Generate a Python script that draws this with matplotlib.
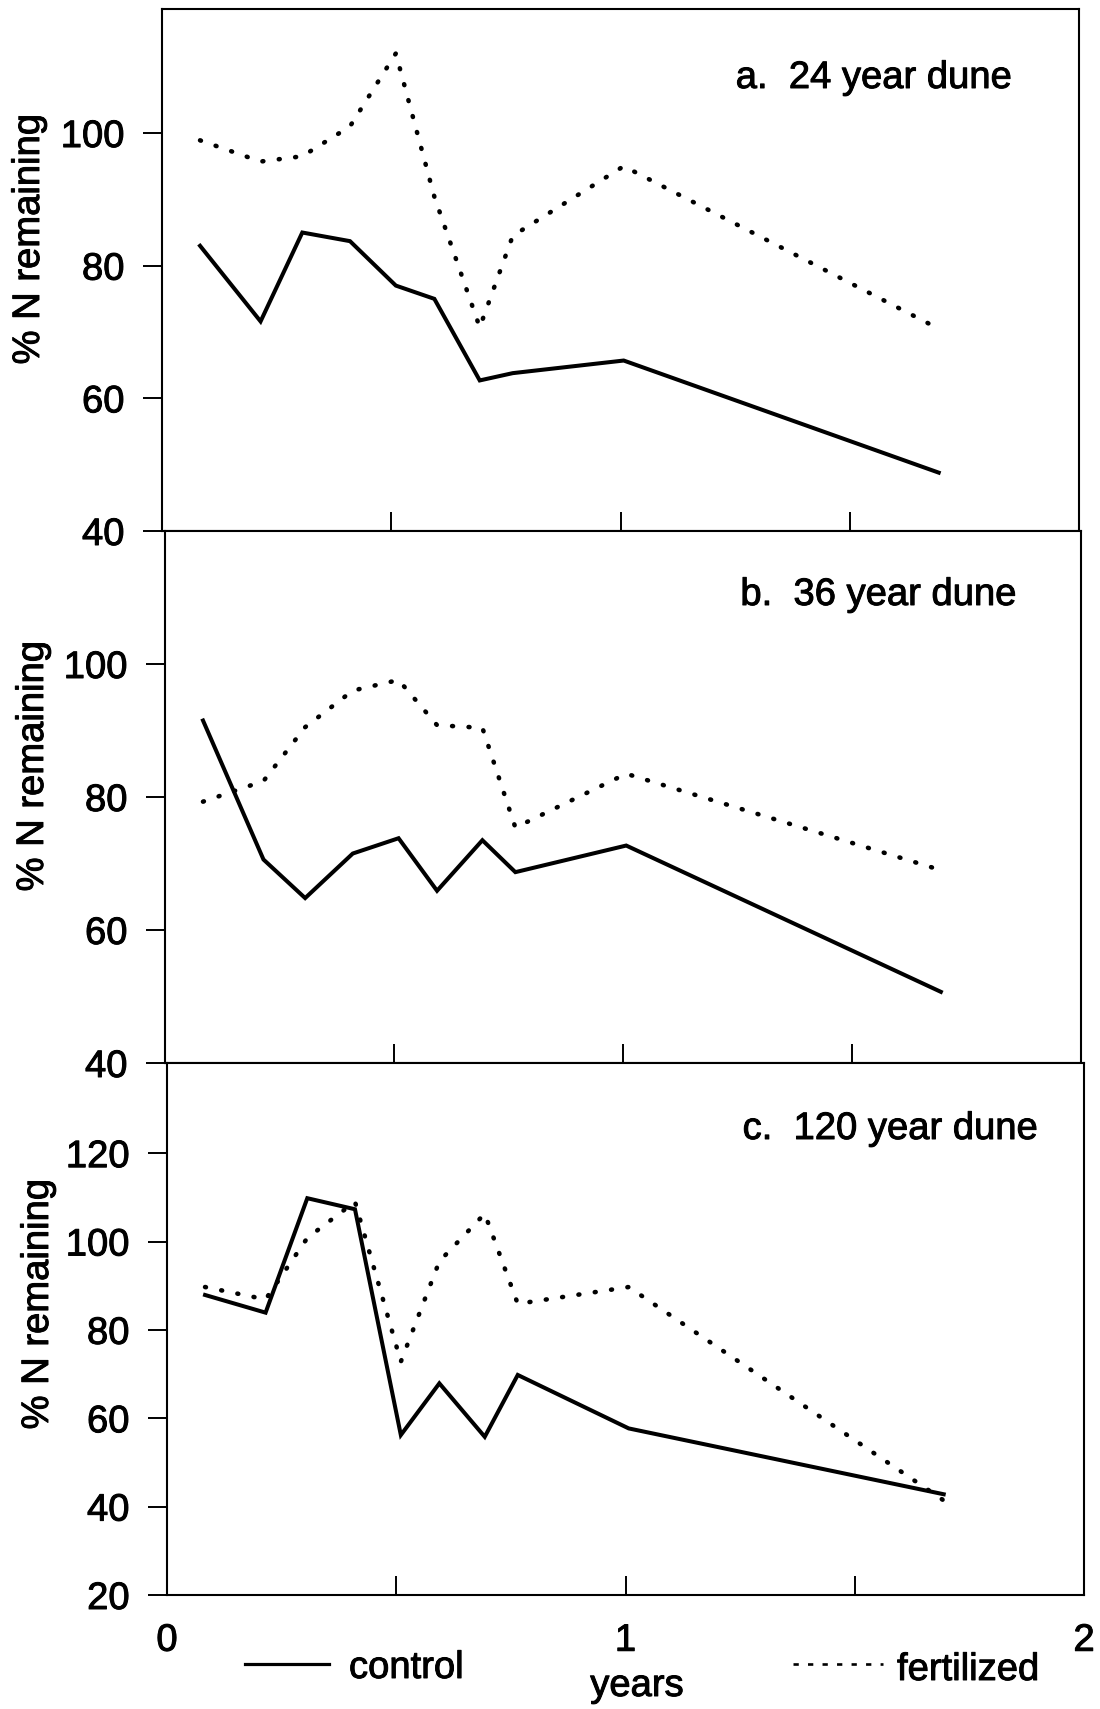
import numpy as np
import matplotlib.pyplot as plt
import matplotlib.patheffects as pe
from matplotlib.lines import Line2D

plt.rcParams['font.family'] = ['Liberation Sans', 'DejaVu Sans']

# sampling times (years) shared by all three dunes
years = [0.083, 0.215, 0.306, 0.41, 0.51, 0.594, 0.693, 0.765, 1.007, 1.694]

control_a = [83.0, 71.6, 85.0, 83.7, 77.0, 75.0, 62.7, 63.8, 65.7, 48.8]
fert_a = [98.9, 95.7, 96.5, 101.0, 112.0, 90.4, 70.7, 84.5, 95.0, 70.5]

control_b = [91.5, 70.6, 64.8, 71.5, 73.8, 65.9, 73.5, 68.7, 72.7, 50.7]
fert_b = [79.3, 82.4, 90.5, 96.0, 97.6, 90.8, 90.4, 75.4, 83.5, 69.0]

control_c = [87.9, 83.9, 109.8, 107.3, 56.2, 67.9, 55.8, 69.8, 57.7, 42.8]
fert_c = [89.7, 86.9, 100.8, 109.0, 72.8, 95.5, 106.3, 85.9, 89.7, 41.4]

titles = ['a.  24 year dune', 'b.  36 year dune', 'c.  120 year dune']
yticks = [[40, 60, 80, 100], [40, 60, 80, 100], [20, 40, 60, 80, 100, 120]]
ylims = [(40, 118.7), (40, 120), (20, 140.4)]

W, H = 1100, 1709
fig = plt.figure(figsize=(W / 100, H / 100), dpi=100)

# slightly heavier lettering
heavy = [pe.withStroke(linewidth=0.7, foreground='k')]

# panel boxes in pixels: left, right, top, bottom
boxes = [(162, 1079, 9, 531), (165, 1081, 531, 1063), (167, 1084, 1063, 1595)]
title_pos = [(1012, 78), (1017, 595), (1038, 1129)]
ylab_pos = [(29, 239), (33, 766), (38, 1304)]

series = [(control_a, fert_a), (control_b, fert_b), (control_c, fert_c)]
fs = 27.5

for i, (l, r, t, b) in enumerate(boxes):
    ax = fig.add_axes([l / W, 1 - b / H, (r - l) / W, (b - t) / H])
    ctrl, fert = series[i]
    ax.plot(years, ctrl, color='k', lw=2.9, solid_joinstyle='miter')
    ax.plot(years, fert, color='k', lw=3.3, dashes=(0.2, 3.4),
            dash_capstyle='round')
    ax.set_xlim(0, 2)
    ax.set_ylim(*ylims[i])
    ax.set_yticks(yticks[i])
    ax.set_yticklabels([str(v) for v in yticks[i]], fontsize=fs)
    ax.set_xticks([0, 0.5, 1, 1.5, 2])
    if i == 2:
        ax.set_xticklabels(['0', '', '1', '', '2'], fontsize=fs)
    else:
        ax.set_xticklabels([])
    for lab in ax.get_xticklabels() + ax.get_yticklabels():
        lab.set_path_effects(heavy)
    ax.tick_params(axis='y', direction='out', length=14, width=1.4, pad=13)
    ax.tick_params(axis='x', direction='in', length=14, width=1.4, pad=20)
    for s in ax.spines.values():
        s.set_linewidth(1.5)
    tx, ty = title_pos[i]
    ax.text((tx - l) / (r - l), (b - ty) / (b - t), titles[i], fontsize=fs,
            ha='right', va='center', transform=ax.transAxes,
            path_effects=heavy)
    lx, ly = ylab_pos[i]
    fig.text(lx / W, 1 - ly / H, '% N remaining', fontsize=fs, rotation=90,
             ha='center', va='center', path_effects=heavy)

# key below the bottom panel
fig.add_artist(Line2D([245 / W, 329 / W], [1 - 1664 / H, 1 - 1664 / H],
                      color='k', lw=2.3))
fig.text(349 / W, 1 - 1668 / H, 'control', fontsize=fs, ha='left',
         va='center', path_effects=heavy)
fig.add_artist(Line2D([793 / W, 883 / W], [1 - 1664 / H, 1 - 1664 / H],
                      color='k', lw=1.9, dashes=(2, 3.5)))
fig.text(897 / W, 1 - 1670 / H, 'fertilized', fontsize=fs, ha='left',
         va='center', path_effects=heavy)
fig.text(637 / W, 1 - 1686 / H, 'years', fontsize=fs, ha='center',
         va='center', path_effects=heavy)

fig.savefig('out.png', dpi=100)
